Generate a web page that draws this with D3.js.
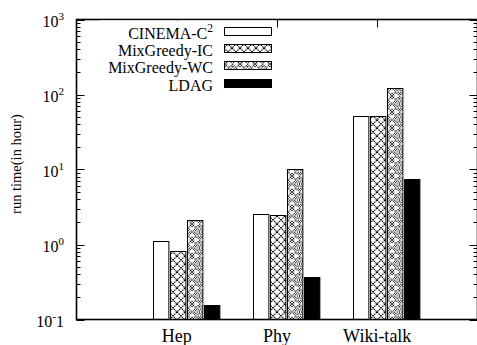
<!DOCTYPE html>
<html>
<head>
<meta charset="utf-8">
<script src="https://d3js.org/d3.v7.min.js"></script>
<style>
  body { margin: 0; background: #fff; }
</style>
</head>
<body>
<div id="chart"></div>
<script>
// data
const categories = ["Hep", "Phy", "Wiki-talk"];
const series = ["CINEMA-C2", "MixGreedy-IC", "MixGreedy-WC", "LDAG"];
const cinema = [1.1, 2.55, 52];
const mixIC = [0.82, 2.5, 51];
const mixWC = [2.13, 10.2, 122];
const ldag = [0.158, 0.37, 7.4];
const yTicks = [0.1, 1, 10, 100, 1000];
const yTickExp = ["-1", "0", "1", "2", "3"];

const values = [cinema, mixIC, mixWC, ldag];

const width = 477, height = 345;
const plotL = 76.5, plotR = 477.5, plotT = 19.5, plotB = 319.5;
const serif = '"Liberation Serif", "Times New Roman", serif';

const svg = d3.select("#chart").append("svg")
    .attr("width", width)
    .attr("height", height)
    .style("font-family", serif);

// fill patterns
const defs = svg.append("defs");
const pIC = defs.append("pattern")
    .attr("id", "pIC")
    .attr("patternUnits", "userSpaceOnUse")
    .attr("width", 8).attr("height", 8);
pIC.append("rect").attr("width", 8).attr("height", 8).attr("fill", "#fff");
pIC.append("path")
    .attr("d", "M0,0L8,8M8,0L0,8")
    .attr("stroke", "#000").attr("stroke-width", 1.2)
    .attr("stroke-dasharray", "1.5,0.8");

const pWC = defs.append("pattern")
    .attr("id", "pWC")
    .attr("patternUnits", "userSpaceOnUse")
    .attr("width", 15).attr("height", 16);
pWC.append("rect").attr("width", 15).attr("height", 16).attr("fill", "#fff");
pWC.append("path")
    .attr("d", "M7.5,0L15,8L7.5,16L0,8ZM7.5,2.5L12.5,8L7.5,13.5L2.5,8Z")
    .attr("fill", "none")
    .attr("stroke", "#000").attr("stroke-width", 1.1)
    .attr("stroke-dasharray", "1,0.8");
pWC.append("path")
    .attr("d", "M0,0L4,4M15,0L11,4M0,16L4,12M15,16L11,12M0,3L2.5,0M15,3L12.5,0M0,13L2.5,16M15,13L12.5,16")
    .attr("stroke", "#000").attr("stroke-width", 1.1)
    .attr("stroke-dasharray", "1,0.8");
pWC.append("circle")
    .attr("cx", 7.5).attr("cy", 8).attr("r", 2.3)
    .attr("fill", "none")
    .attr("stroke", "#000").attr("stroke-width", 1)
    .attr("stroke-dasharray", "1,0.7");
pWC.append("line")
    .attr("x1", 7.5).attr("x2", 7.5).attr("y1", 6.5).attr("y2", 9.5)
    .attr("stroke", "#000").attr("stroke-width", 0.8);

const fills = ["#fff", "url(#pIC)", "url(#pWC)", "#000"];

// scales
const x = d3.scaleLinear().domain([-1, 3]).range([plotL, plotR]);
const y = d3.scaleLog().domain([0.1, 1000]).range([plotB, plotT]);
const inner = d3.scaleBand().domain(series).range([-24, 42]).paddingInner(0.09);

// minor + major ticks on left and right
const minor = [];
for (let e = -1; e < 3; e++) {
    for (let m = 2; m <= 9; m++) minor.push(m * Math.pow(10, e));
}
const tickG = svg.append("g").attr("stroke", "#000").attr("stroke-width", 1);
minor.forEach(v => {
    const yy = Math.round(y(v)) + 0.5;
    tickG.append("line").attr("x1", plotL).attr("x2", plotL + 4).attr("y1", yy).attr("y2", yy);
    tickG.append("line").attr("x1", plotR).attr("x2", plotR - 4).attr("y1", yy).attr("y2", yy);
});
yTicks.forEach(v => {
    const yy = Math.round(y(v)) + 0.5;
    tickG.append("line").attr("x1", plotL).attr("x2", plotL + 8).attr("y1", yy).attr("y2", yy);
    tickG.append("line").attr("x1", plotR).attr("x2", plotR - 8).attr("y1", yy).attr("y2", yy);
});
categories.forEach((c, i) => {
    const xx = Math.round(x(i)) + 0.5;
    tickG.append("line").attr("x1", xx).attr("x2", xx).attr("y1", plotT).attr("y2", plotT + 8);
    tickG.append("line").attr("x1", xx).attr("x2", xx).attr("y1", plotB).attr("y2", plotB - 8);
});

// y tick labels
yTicks.forEach((v, i) => {
    const t = svg.append("text")
        .attr("x", 64)
        .attr("y", y(v) + 7)
        .attr("text-anchor", "end")
        .style("font-size", "16px");
    if (yTickExp[i] === "-1") {
        t.append("tspan").text("10");
        t.append("tspan").attr("dy", -7).style("font-size", "11px").text("-");
        t.append("tspan").attr("dy", 7).text("1");
    } else {
        t.append("tspan").text("10");
        t.append("tspan").attr("dy", -7).style("font-size", "11px").text(yTickExp[i]);
    }
});

// bars
const groups = svg.append("g").selectAll("g")
    .data(categories)
    .join("g")
    .attr("transform", (d, i) => `translate(${Math.round(x(i))},0)`);

groups.selectAll("rect")
    .data((d, i) => series.map((s, k) => ({ s: s, k: k, v: values[k][i] })))
    .join("rect")
    .attr("x", d => Math.round(inner(d.s)) + 0.5)
    .attr("y", d => Math.round(y(d.v)) + 0.5)
    .attr("width", inner.bandwidth())
    .attr("height", d => plotB - Math.round(y(d.v)) - 0.5)
    .attr("fill", d => fills[d.k])
    .attr("stroke", "#000")
    .attr("stroke-width", 1);

// frame
svg.append("rect")
    .attr("x", plotL).attr("y", plotT)
    .attr("width", plotR - plotL).attr("height", plotB - plotT)
    .attr("fill", "none")
    .attr("stroke", "#000")
    .attr("stroke-width", 1.6);

// x labels
categories.forEach((c, i) => {
    svg.append("text")
        .attr("x", x(i))
        .attr("y", 342)
        .attr("text-anchor", "middle")
        .style("font-size", "18px")
        .text(c);
});

// y label
svg.append("text")
    .attr("transform", "translate(21,164) rotate(-90)")
    .attr("text-anchor", "middle")
    .style("font-size", "14.5px")
    .text("run time(in hour)");

// legend (opaque key, hides the top tick behind it)
const legend = svg.append("g");
legend.append("rect")
    .attr("x", 100).attr("y", 20.5)
    .attr("width", 176).attr("height", 74)
    .attr("fill", "#fff");
series.forEach((s, k) => {
    const base = 39 + k * 17.2;
    const t = legend.append("text")
        .attr("x", 213)
        .attr("y", base)
        .attr("text-anchor", "end")
        .style("font-size", "16px");
    if (s === "CINEMA-C2") {
        t.append("tspan").text("CINEMA-C");
        t.append("tspan").attr("dy", -7).style("font-size", "11.5px").text("2");
    } else {
        t.text(s);
    }
    legend.append("rect")
        .attr("x", 224.5)
        .attr("y", Math.round(base - 12) + 0.5)
        .attr("width", 47)
        .attr("height", 8)
        .attr("fill", fills[k])
        .attr("stroke", "#000")
        .attr("stroke-width", 1);
});
</script>
</body>
</html>
